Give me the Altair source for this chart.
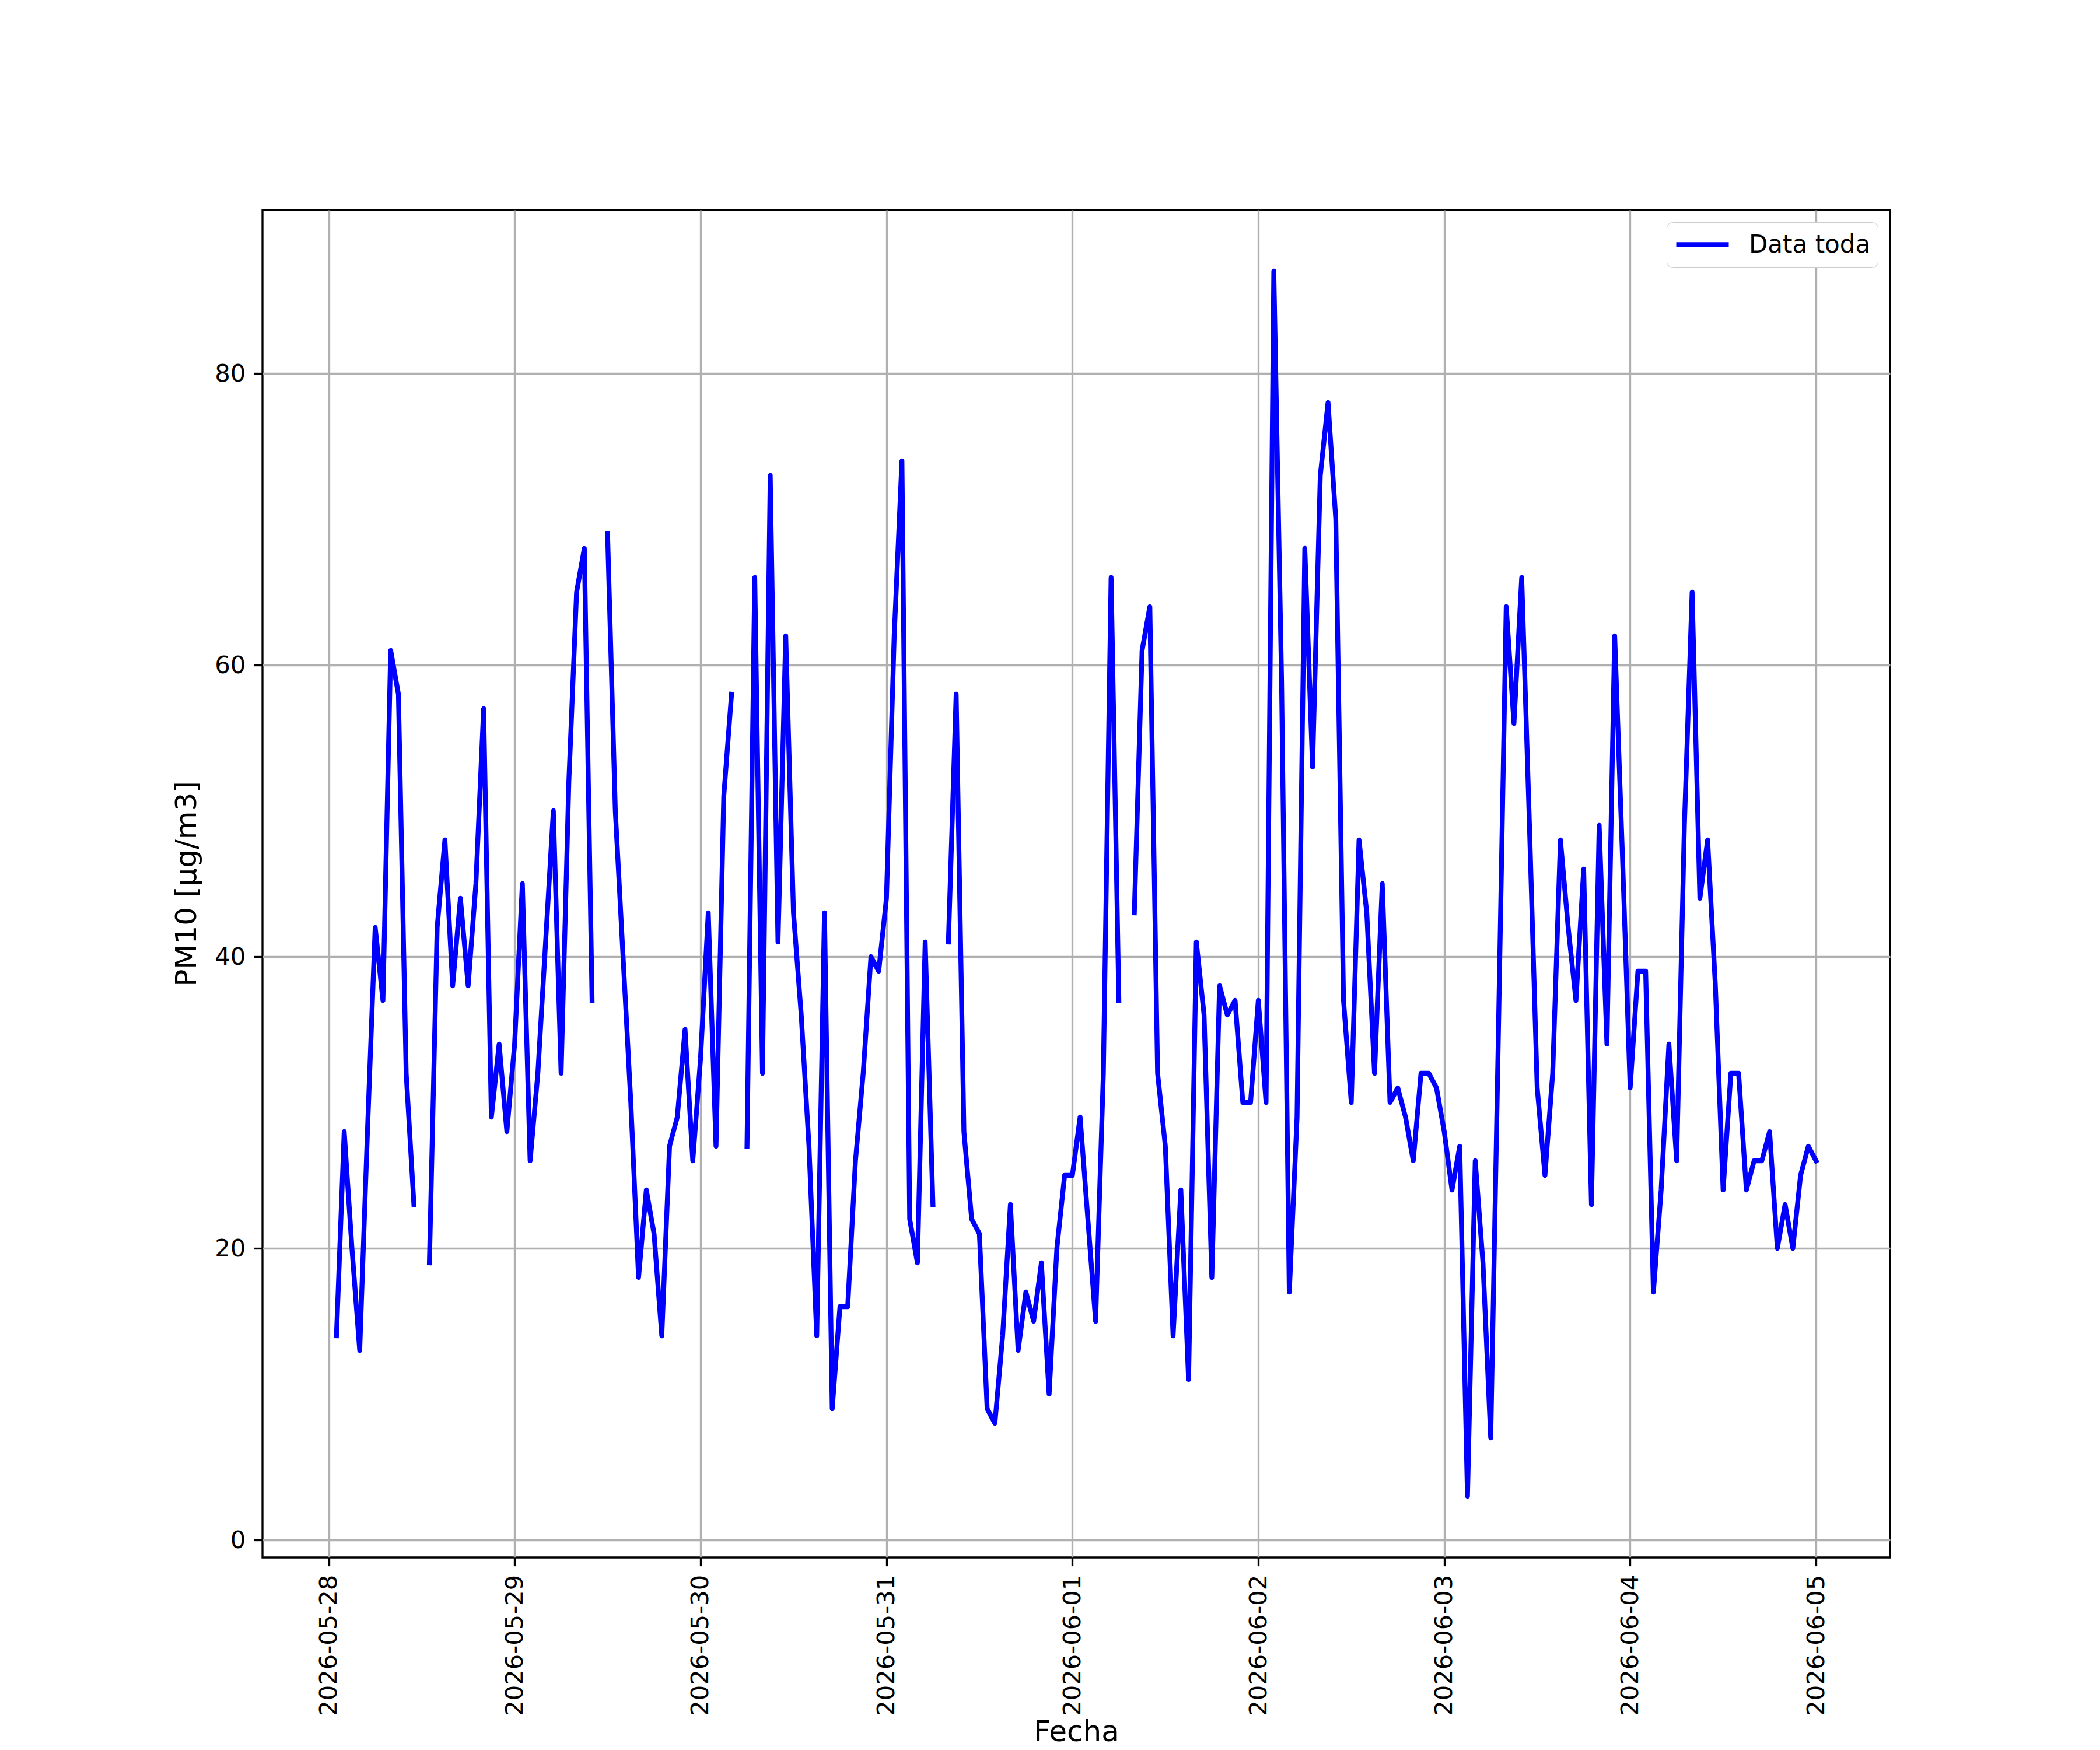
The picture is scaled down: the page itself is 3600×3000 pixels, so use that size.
import altair as alt
import pandas as pd

# Hourly PM10 readings, one list per day (None = missing hour)
d0528 = [14, 28, 20, 13, 28, 42, 37, 61, 58, 32, 23, None, 19, 42, 48, 38, 44, 38, 45, 57, 29, 34, 28]  # 01:00..23:00
d0529 = [34, 45, 26, 32, 41, 50, 32, 52, 65, 68, 37, None, 69, 50, 40, 30, 18, 24, 21, 14, 27, 29, 35, 26]
d0530 = [33, 43, 27, 51, 58, None, 27, 66, 32, 73, 41, 62, 43, 36, 27, 14, 43, 9, 16, 16, 26, 32, 40, 39]
d0531 = [44, 62, 74, 22, 19, 41, 23, None, 41, 58, 28, 22, 21, 9, 8, 14, 23, 13, 17, 15, 19, 10, 20, 25]
d0601 = [25, 29, 22, 15, 32, 66, 37, None, 43, 61, 64, 32, 27, 14, 24, 11, 41, 36, 18, 38, 36, 37, 30, 30]
d0602 = [37, 30, 87, 59, 17, 29, 68, 53, 73, 78, 70, 37, 30, 48, 43, 32, 45, 30, 31, 29, 26, 32, 32, 31]
d0603 = [28, 24, 27, 3, 26, 19, 7, 35, 64, 56, 66, 49, 31, 25, 32, 48, 42, 37, 46, 23, 49, 34, 62, 47]
d0604 = [31, 39, 39, 17, 24, 34, 26, 49, 65, 44, 48, 38, 24, 32, 32, 24, 26, 26, 28, 20, 23, 20, 25, 27]
d0605 = [26]  # 00:00

x_ticks = ["2026-05-28", "2026-05-29", "2026-05-30", "2026-05-31", "2026-06-01",
           "2026-06-02", "2026-06-03", "2026-06-04", "2026-06-05"]
y_ticks = [0, 20, 40, 60, 80]
series_name = "Data toda"

values = d0528 + d0529 + d0530 + d0531 + d0601 + d0602 + d0603 + d0604 + d0605
times = pd.date_range("2026-05-28 01:00", periods=len(values), freq="h")

rows = []
seg = 0
for t, v in zip(times, values):
    if v is None:
        seg += 1
        continue
    rows.append({"fecha": t.strftime("%Y-%m-%dT%H:%M:%S"), "pm10": v, "seg": seg, "serie": series_name})
df = pd.DataFrame(rows)

t0 = times[0] - pd.Timedelta(minutes=573)
t1 = times[-1] + pd.Timedelta(minutes=573)

def dt(ts):
    return alt.DateTime(year=ts.year, month=ts.month, date=ts.day, hours=ts.hour, minutes=ts.minute)

tick_vals = [dt(pd.Timestamp(s)) for s in x_ticks]

FONT = "DejaVu Sans"
TICK_FS = 41.67
LABEL_FS = 50
LW = 3.33

chart = alt.Chart(df).mark_line(strokeWidth=8.33, strokeJoin="round", strokeCap="square").encode(
    x=alt.X("fecha:T",
            scale=alt.Scale(domain=[dt(t0), dt(t1)], nice=False),
            axis=alt.Axis(title="Fecha", values=tick_vals, format="%Y-%m-%d", labelAngle=270,
                          labelFont=FONT, labelFontSize=TICK_FS, labelColor="black",
                          labelPadding=14.6, labelLimit=1000, tickSize=14.6, tickWidth=LW,
                          tickColor="black", domain=False, grid=True, gridColor="#b0b0b0",
                          gridWidth=LW, titleFont=FONT, titleFontSize=LABEL_FS,
                          titleFontWeight="normal", titleColor="black",
                          titleY=314, titleBaseline="alphabetic",
                          labelOverlap=False)),
    y=alt.Y("pm10:Q",
            scale=alt.Scale(domain=[-1.2, 91.2], nice=False, zero=False),
            axis=alt.Axis(title="PM10 [μg/m3]", values=y_ticks,
                          labelFont=FONT, labelFontSize=TICK_FS, labelColor="black",
                          labelPadding=14.6, tickSize=14.6, tickWidth=LW, tickColor="black",
                          domain=False, grid=True, gridColor="#b0b0b0", gridWidth=LW,
                          titleFont=FONT, titleFontSize=LABEL_FS, titleFontWeight="normal",
                          titleColor="black", titlePadding=22)),
    color=alt.Color("serie:N",
                    scale=alt.Scale(domain=[series_name], range=["blue"]),
                    legend=alt.Legend(title=None, orient="top-right", offset=21,
                                      labelFont=FONT, labelFontSize=42, labelColor="black",
                                      labelLimit=1000, labelOffset=30, symbolType="stroke",
                                      symbolSize=8100, symbolStrokeWidth=8.33,
                                      clipHeight=53,
                                      strokeColor="#cccccc", fillColor="white",
                                      cornerRadius=10, padding=12)),
    detail="seg:N",
    order="fecha:T",
).properties(
    width=2790, height=2310,
    autosize=alt.AutoSizeParams(type="none"),
    padding={"left": 442, "top": 352, "right": 352, "bottom": 330},
    background="white",
).configure_view(stroke="black", strokeWidth=LW)

chart.save("out.html", embed_options={"renderer": "svg", "actions": False})
